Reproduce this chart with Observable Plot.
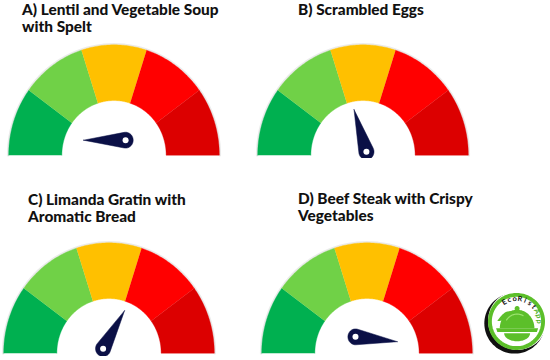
<!DOCTYPE html>
<html><head><meta charset="utf-8">
<script src="https://cdn.jsdelivr.net/npm/d3@7"></script>
<script src="https://cdn.jsdelivr.net/npm/@observablehq/plot@0.6"></script>
<style>
body{margin:0;background:#fff;}
#wrap{position:relative;width:550px;height:360px;overflow:hidden;font-family:Lato,"Open Sans",sans-serif;}
.title{position:absolute;font-weight:900;font-size:15.4px;line-height:17px;color:#111;white-space:pre-line;}
.panel{position:absolute;}
.panel svg{display:block;background:transparent;}
</style></head><body><div id="wrap"></div>
<script>
// ---- data ----
const dishes = [
  "A) Lentil and Vegetable Soup\nwith Spelt",
  "B) Scrambled Eggs",
  "C) Limanda Gratin with\nAromatic Bread",
  "D) Beef Steak with Crispy\nVegetables"
];
const bandStops = [0, 0.2, 0.4, 0.6, 0.8, 1];
const bandColors = ["#00b050", "#70d147", "#ffc000", "#ff0000", "#dc0000"];
const needleValues = [0.0, 0.405, 0.67, 1.035];
const logoText = ["E","c","o","R","i","s","t","A","p","p"];
const logoTextColors = ["#111","#111","#111","#111","#111","#111","#111","#4caf23","#4caf23","#4caf23"];

// ---- layout (code, not data) ----
const panels = [
  {left:5,   top:41,  tx:22, ty:1},
  {left:254, top:41,  tx:298, ty:1},
  {left:0,   top:239, tx:28, ty:191},
  {left:258, top:239, tx:298, ty:190}
];
const XH = 1.03, YB = -0.03, YT = 1.03;
const W = 217, H = 117;
const R_IN = 0.495;
const NAVY = "#0b1046";

function arcPoly(a0, a1, r0, r1, n = 48) {
  const pts = [];
  for (let i = 0; i <= n; i++) { const t = a0 + (a1 - a0) * i / n, th = Math.PI * (1 - t); pts.push({x: r1 * Math.cos(th), y: r1 * Math.sin(th)}); }
  for (let i = n; i >= 0; i--) { const t = a0 + (a1 - a0) * i / n, th = Math.PI * (1 - t); pts.push({x: r0 * Math.cos(th), y: r0 * Math.sin(th)}); }
  return pts;
}
function arcLine(a0, a1, r, n = 60) {
  const pts = [];
  for (let i = 0; i <= n; i++) { const t = a0 + (a1 - a0) * i / n, th = Math.PI * (1 - t); pts.push({x: r * Math.cos(th), y: r * Math.sin(th)}); }
  return pts;
}
function needlePoly(v) {
  const th = Math.PI * (1 - v);
  const ux = Math.cos(th), uy = Math.sin(th);
  const Rx = 0, Ry = 0.136;
  const P = {x: Rx - 0.11 * ux, y: Ry - 0.11 * uy};
  const T = {x: Rx + 0.29 * ux, y: Ry + 0.29 * uy};
  const rb = 0.072, d = 0.40, al = Math.acos(rb / d);
  const pts = [T];
  const n = 40;
  for (let i = 0; i <= n; i++) {
    const phi = th + al + (2 * Math.PI - 2 * al) * i / n;
    pts.push({x: P.x + rb * Math.cos(phi), y: P.y + rb * Math.sin(phi)});
  }
  pts.push(T);
  return {pts, P};
}
function circlePoly(cx, cy, rx, ry = rx, n = 90, a0 = 0, a1 = 2 * Math.PI) {
  const pts = [];
  for (let i = 0; i <= n; i++) { const a = a0 + (a1 - a0) * i / n; pts.push({x: cx + rx * Math.cos(a), y: cy + ry * Math.sin(a)}); }
  return pts;
}

const wrap = document.getElementById("wrap");

dishes.forEach((title, i) => {
  const L = panels[i];
  const t = document.createElement("div");
  t.className = "title";
  t.style.left = L.tx + "px"; t.style.top = L.ty + "px";
  t.textContent = title;
  wrap.appendChild(t);

  const marks = [];
  // soft shadow around the outer edge
  marks.push(Plot.line(arcLine(0, 1, 1.005), {x: "x", y: "y", stroke: "#000", strokeOpacity: 0.08, strokeWidth: 2.5}));
  bandColors.forEach((c, k) => {
    marks.push(Plot.line(arcPoly(bandStops[k], bandStops[k + 1], R_IN, 1), {x: "x", y: "y", fill: c, stroke: c, strokeWidth: 0.4}));
  });
  const nd = needlePoly(needleValues[i]);
  marks.push(Plot.line(nd.pts, {x: "x", y: "y", fill: NAVY, stroke: NAVY, strokeWidth: 0.5}));
  marks.push(Plot.dot([nd.P], {x: "x", y: "y", r: 3, fill: "#fff", stroke: "none"}));

  const svg = Plot.plot({
    width: W, height: H, margin: 0,
    x: {domain: [-XH, XH], axis: null},
    y: {domain: [YB, YT], axis: null},
    marks
  });
  const p = document.createElement("div");
  p.className = "panel";
  p.style.left = L.left + "px"; p.style.top = L.top + "px";
  p.appendChild(svg);
  wrap.appendChild(p);
});

// ---- logo ----
(function () {
  const G = "#5cbf2a";
  const marks = [];
  marks.push(Plot.line(circlePoly(-0.06, -0.06, 0.98), {x: "x", y: "y", fill: "#111", stroke: "none"}));
  marks.push(Plot.line(circlePoly(0.03, 0.03, 0.95), {x: "x", y: "y", fill: "#fff", stroke: "none"}));
  marks.push(Plot.line(circlePoly(0.0, 0.0, 0.86), {x: "x", y: "y", fill: "#fff", stroke: G, strokeWidth: 4}));
  // dome
  marks.push(Plot.line(circlePoly(0.02, -0.22, 0.56, 0.6, 60, 0, Math.PI), {x: "x", y: "y", fill: G, stroke: "none"}));
  // knob
  marks.push(Plot.line(circlePoly(0.02, 0.42, 0.08), {x: "x", y: "y", fill: G, stroke: "none"}));
  // plate
  marks.push(Plot.line([{x:-0.66,y:-0.22},{x:0.7,y:-0.22},{x:0.66,y:-0.34},{x:-0.62,y:-0.34}], {x: "x", y: "y", fill: G, stroke: "none"}));
  // base bowl
  marks.push(Plot.line(circlePoly(0.02, -0.38, 0.42, 0.26, 40, Math.PI, 2 * Math.PI), {x: "x", y: "y", fill: G, stroke: "none"}));
  // leaf
  const leaf = [];
  for (let k = 0; k <= 20; k++) { const s = k / 20; leaf.push({x: -0.62 + 0.5 * s, y: 0.02 + 0.3 * s + 0.12 * Math.sin(Math.PI * s)}); }
  for (let k = 20; k >= 0; k--) { const s = k / 20; leaf.push({x: -0.62 + 0.5 * s, y: 0.02 + 0.3 * s - 0.1 * Math.sin(Math.PI * s)}); }
  marks.push(Plot.line(leaf, {x: "x", y: "y", fill: G, stroke: "none"}));
  // highlight stripes on dome
  marks.push(Plot.line(circlePoly(0.02, -0.22, 0.42, 0.46, 30, 0.35 * Math.PI, 0.8 * Math.PI), {x: "x", y: "y", stroke: "#9be36e", strokeWidth: 1.2}));
  // curved text
  const letters = logoText.map((ch, k) => {
    const deg = 122 - k * 13.6;
    const a = deg * Math.PI / 180;
    return {ch, x: 0.74 * Math.cos(a), y: 0.74 * Math.sin(a), rot: 90 - deg, c: logoTextColors[k]};
  });
  marks.push(Plot.text(letters, {x: "x", y: "y", text: "ch", rotate: "rot", fill: "c", fontSize: 7.5, fontWeight: 700, fontFamily: "Lato"}));
  const svg = Plot.plot({
    width: 70, height: 70, margin: 0,
    x: {domain: [-1.1, 1.1], axis: null},
    y: {domain: [-1.1, 1.1], axis: null},
    color: {type: "identity"},
    marks
  });
  const p = document.createElement("div");
  p.className = "panel";
  p.style.left = "482px"; p.style.top = "287px";
  p.appendChild(svg);
  wrap.appendChild(p);
})();
</script></body></html>
